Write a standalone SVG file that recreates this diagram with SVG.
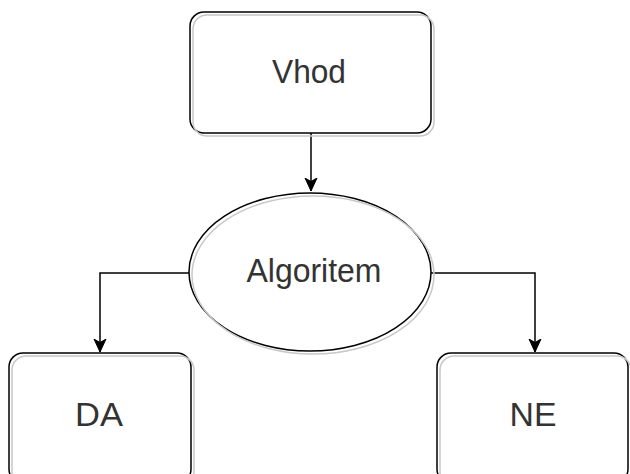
<svg xmlns="http://www.w3.org/2000/svg" width="630" height="474" viewBox="0 0 630 474">
<style>
.shape{fill:#fff;stroke:#000;stroke-width:1.5}
.shadow{fill:none;stroke:#c8c8c8;stroke-width:1.5}
.lbl{font-family:"Liberation Sans",Arial,sans-serif;font-size:33px;fill:#333;text-anchor:middle}
.edge{fill:none;stroke:#000;stroke-width:1.5}
</style>
<defs>
<marker id="arr" viewBox="0 0 14 14" markerWidth="14" markerHeight="14" refX="13" refY="7" orient="auto" markerUnits="userSpaceOnUse">
<path d="M0,1 L13,7 L0,13 L3.5,7 Z" fill="#000" stroke="#000" stroke-width="1"/>
</marker>
</defs>
<g id="connectors">
<path class="edge" d="M311,133 V191" marker-end="url(#arr)"/>
<path class="edge" d="M189,273 H100 V352" marker-end="url(#arr)"/>
<path class="edge" d="M431,273 H535 V352" marker-end="url(#arr)"/>
</g>
<g id="vhod">
<rect class="shape" x="190" y="12" width="241" height="121" rx="14"/>
<rect class="shadow" x="193" y="15" width="241" height="121" rx="14"/>
<text class="lbl" x="309" y="83" textLength="74" lengthAdjust="spacingAndGlyphs">Vhod</text>
</g>
<g id="algoritem">
<ellipse class="shape" cx="310" cy="272" rx="121" ry="79"/>
<ellipse class="shadow" cx="313" cy="275" rx="121" ry="79"/>
<text class="lbl" x="314" y="282" textLength="135" lengthAdjust="spacingAndGlyphs">Algoritem</text>
</g>
<g id="da">
<rect class="shape" x="9" y="353" width="182" height="130" rx="14"/>
<rect class="shadow" x="12" y="356" width="182" height="130" rx="14"/>
<text class="lbl" x="99" y="426" textLength="48" lengthAdjust="spacingAndGlyphs">DA</text>
</g>
<g id="ne">
<rect class="shape" x="437" y="353" width="191" height="130" rx="14"/>
<rect class="shadow" x="440" y="356" width="191" height="130" rx="14"/>
<text class="lbl" x="533" y="426" textLength="47" lengthAdjust="spacingAndGlyphs">NE</text>
</g>
</svg>
